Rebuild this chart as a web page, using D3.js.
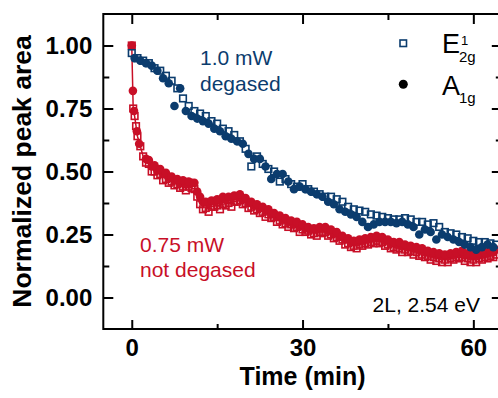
<!DOCTYPE html>
<html><head><meta charset="utf-8">
<script src="https://cdn.jsdelivr.net/npm/d3@7"></script>
<style>
html,body{margin:0;padding:0;background:#fff;overflow:hidden}
svg{display:block;font-family:"Liberation Sans",Arial,sans-serif}
</style></head><body>
<svg id="chart" width="498" height="398"></svg>
<script>
// ---- data ----
// 0.75 mW, not degased (red): E2g (squares) and A1g (circles), two interleaved scans each
const redE_t = [0,0.25,0.5,0.75,1,1.5,2,3,4,5,6,7,8,9,10,11,12,13,14,15,16,17,18,19,20,21,22,23,24,25,26,27,28,29,30,31,32,33,34,35,36,37,38,39,40,41,42,43,44,45,46,47,48,49,50,51,52,53,54,55,56,57,58,59,60,61,62,63,64];
const redE_v = [1.00,0.75,0.72,0.68,0.64,0.60,0.56,0.53,0.50,0.49,0.47,0.46,0.45,0.44,0.44,0.43,0.37,0.355,0.36,0.365,0.37,0.375,0.38,0.385,0.375,0.36,0.35,0.34,0.33,0.32,0.305,0.295,0.29,0.28,0.27,0.265,0.255,0.26,0.26,0.25,0.24,0.23,0.215,0.205,0.21,0.215,0.22,0.225,0.22,0.21,0.20,0.195,0.19,0.185,0.18,0.17,0.165,0.16,0.155,0.15,0.155,0.16,0.16,0.155,0.15,0.155,0.16,0.165,0.17];
const redE2_t = [2.5,3.5,4.5,5.5,6.5,7.5,8.5,9.5,10.5,11.5,12.5,13.5,14.5,15.5,16.5,17.5,18.5,19.5,20.5,21.5,22.5,23.5,24.5,25.5,26.5,27.5,28.5,29.5,30.5,31.5,32.5,33.5,34.5,35.5,36.5,37.5,38.5,39.5,40.5,41.5,42.5,43.5,44.5,45.5,46.5,47.5,48.5,49.5,50.5,51.5,52.5,53.5,54.5,55.5,56.5,57.5,58.5,59.5,60.5,61.5,62.5,63.5];
const redE2_v = [0.535,0.50,0.485,0.465,0.455,0.445,0.435,0.425,0.435,0.40,0.35,0.34,0.36,0.35,0.365,0.36,0.38,0.37,0.355,0.345,0.335,0.32,0.315,0.30,0.29,0.28,0.275,0.26,0.26,0.25,0.245,0.255,0.245,0.235,0.225,0.21,0.20,0.195,0.205,0.21,0.215,0.215,0.205,0.195,0.19,0.18,0.18,0.17,0.165,0.16,0.15,0.145,0.14,0.14,0.15,0.155,0.145,0.14,0.14,0.15,0.155,0.16];
const redA_t = [0,0.2,0.4,0.9,1.3,2.5,3.5,4.5,5.5,6.5,7.5,8.5,9.5,10.5,11.5,12.5,13.5,14.5,15.5,16.5,17.5,18.5,19.5,20.5,21.5,22.5,23.5,24.5,25.5,26.5,27.5,28.5,29.5,30.5,31.5,32.5,33.5,34.5,35.5,36.5,37.5,38.5,39.5,40.5,41.5,42.5,43.5,44.5,45.5,46.5,47.5,48.5,49.5,50.5,51.5,52.5,53.5,54.5,55.5,56.5,57.5,58.5,59.5,60.5,61.5,62.5,63.5];
const redA_v = [1.00,0.82,0.74,0.66,0.61,0.55,0.52,0.505,0.49,0.475,0.465,0.455,0.45,0.455,0.42,0.38,0.375,0.38,0.385,0.39,0.395,0.40,0.39,0.375,0.365,0.355,0.345,0.33,0.32,0.31,0.30,0.29,0.285,0.275,0.27,0.27,0.275,0.265,0.255,0.24,0.23,0.22,0.22,0.225,0.23,0.235,0.235,0.225,0.215,0.21,0.205,0.20,0.195,0.19,0.18,0.175,0.17,0.165,0.165,0.17,0.175,0.17,0.165,0.165,0.17,0.175,0.18];
const redA2_t = [3,4,5,6,7,8,9,10,11,12,13,14,15,16,17,18,19,20,21,22,23,24,25,26,27,28,29,30,31,32,33,34,35,36,37,38,39,40,41,42,43,44,45,46,47,48,49,50,51,52,53,54,55,56,57,58,59,60,61,62,63,64];
const redA2_v = [0.545,0.525,0.51,0.495,0.48,0.47,0.465,0.46,0.455,0.40,0.38,0.385,0.39,0.40,0.40,0.405,0.41,0.395,0.38,0.37,0.36,0.35,0.335,0.325,0.315,0.305,0.30,0.29,0.28,0.275,0.28,0.28,0.27,0.26,0.245,0.235,0.225,0.23,0.235,0.24,0.245,0.24,0.23,0.22,0.22,0.21,0.205,0.20,0.195,0.185,0.18,0.175,0.17,0.175,0.18,0.185,0.175,0.17,0.175,0.18,0.185,0.19];
// 1.0 mW, degased (blue)
const blueE_t = [0,1,2,3,4,5,6,7,8,9,10,11,12,13,14,15,16,17,18,19,20,21,22,23,24,25,26,27,28,29,30,31,32,33,34,35,36,37,38,39,40,41,42,43,44,45,46,47,48,49,50,51,52,53,54,55,56,57,58,59,60,61,62,63,64];
const blueE_v = [0.97,0.95,0.94,0.93,0.91,0.90,0.88,0.86,0.83,0.79,0.76,0.74,0.73,0.72,0.70,0.69,0.67,0.66,0.645,0.62,0.59,0.52,0.56,0.53,0.51,0.50,0.46,0.47,0.45,0.44,0.45,0.43,0.42,0.41,0.40,0.40,0.39,0.38,0.36,0.35,0.345,0.34,0.33,0.325,0.32,0.315,0.31,0.31,0.315,0.31,0.30,0.30,0.29,0.295,0.28,0.26,0.255,0.25,0.24,0.235,0.225,0.22,0.22,0.215,0.21];
const blueA_t = [0.5,1.5,2.5,3.5,4.5,5.5,6.5,7.5,8.5,9.5,10.5,11.5,12.5,13.5,14.5,15.5,16.5,17.5,18.5,19.5,20.5,21.5,22.5,23.5,24.5,25.5,26.5,27.5,28.5,29.5,30.5,31.5,32.5,33.5,34.5,35.5,36.5,37.5,38.5,39.5,40.5,41.5,42.5,43.5,44.5,45.5,46.5,47.5,48.5,49.5,50.5,51.5,52.5,53.5,54.5,55.5,56.5,57.5,58.5,59.5,60.5,61.5,62.5,63.5];
const blueA_v = [0.95,0.94,0.93,0.92,0.90,0.87,0.85,0.76,0.83,0.74,0.72,0.71,0.70,0.69,0.67,0.66,0.64,0.63,0.62,0.61,0.57,0.55,0.55,0.52,0.47,0.49,0.49,0.46,0.43,0.44,0.43,0.42,0.41,0.40,0.38,0.37,0.35,0.34,0.33,0.32,0.30,0.28,0.29,0.30,0.30,0.30,0.295,0.30,0.29,0.28,0.25,0.27,0.26,0.23,0.25,0.24,0.23,0.22,0.21,0.20,0.19,0.20,0.21,0.20];

const xMajor = [0,30,60], xMinor = [15,45];
const yMajor = [0,0.25,0.5,0.75,1.0], yMinor = [0.125,0.375,0.625,0.875];
const xTitle = "Time (min)", yTitle = "Normalized peak area";

// ---- layout ----
const BLUE = "#0b3c6e", RED = "#c80f27";
const L = 103.3, R = 501.8, T = 14, B = 329;
const x = d3.scaleLinear().domain([-5, 65]).range([L, R]);
const y = d3.scaleLinear().domain([-0.125, 1.125]).range([B, T]);
const svg = d3.select("#chart");
const font = '"Liberation Sans",Arial,sans-serif';

svg.append("defs").append("clipPath").attr("id","clip")
  .append("rect").attr("x",L).attr("y",T).attr("width",R-L).attr("height",B-T);

const zip = (ts, vs) => ts.map((t,i)=>({t, v: vs[i]}));
const plot = svg.append("g").attr("clip-path","url(#clip)");

plot.append("path").datum(zip(redE_t, redE_v))
  .attr("fill","none").attr("stroke",RED).attr("stroke-width",1.5)
  .attr("d", d3.line().x(d=>x(d.t)).y(d=>y(d.v)));

function squares(data, color){
  plot.append("g").selectAll("rect").data(data).join("rect")
    .attr("x", d=>x(d.t)-3.3).attr("y", d=>y(d.v)-3.3)
    .attr("width",6.6).attr("height",6.6)
    .attr("fill","none").attr("stroke",color).attr("stroke-width",1.6);
}
function circles(data, color){
  plot.append("g").selectAll("circle").data(data).join("circle")
    .attr("cx", d=>x(d.t)).attr("cy", d=>y(d.v)).attr("r",4.3)
    .attr("fill",color);
}
squares(zip(redE_t, redE_v), RED);
squares(zip(redE2_t, redE2_v), RED);
circles(zip(redA_t, redA_v), RED);
circles(zip(redA2_t, redA2_v), RED);
squares(zip(blueE_t, blueE_v), BLUE);
circles(zip(blueA_t, blueA_v), BLUE);

// ---- axes ----
function styleAxis(g){
  g.select(".domain").remove();
  g.selectAll(".tick line").attr("stroke","#000").attr("stroke-width",2);
  g.selectAll(".tick text").attr("fill","#000").attr("font-size",24).attr("font-weight","bold").attr("font-family",font);
}
svg.append("g").attr("transform",`translate(0,${B})`)
  .call(d3.axisBottom(x).tickValues(xMajor).tickSizeInner(-9).tickSizeOuter(0).tickPadding(10).tickFormat(d3.format("d")))
  .call(styleAxis);
svg.append("g").attr("transform",`translate(0,${B})`)
  .call(d3.axisBottom(x).tickValues(xMinor).tickSizeInner(-5).tickSizeOuter(0).tickFormat(""))
  .call(styleAxis);
svg.append("g").attr("transform",`translate(0,${T})`)
  .call(d3.axisTop(x).tickValues(xMajor).tickSizeInner(-10).tickSizeOuter(0).tickFormat(""))
  .call(styleAxis);
svg.append("g").attr("transform",`translate(0,${T})`)
  .call(d3.axisTop(x).tickValues(xMinor).tickSizeInner(-6).tickSizeOuter(0).tickFormat(""))
  .call(styleAxis);
svg.append("g").attr("transform",`translate(${L},0)`)
  .call(d3.axisLeft(y).tickValues(yMajor).tickSizeInner(-10).tickSizeOuter(0).tickPadding(11).tickFormat(d3.format(".2f")))
  .call(styleAxis);
svg.append("g").attr("transform",`translate(${L},0)`)
  .call(d3.axisLeft(y).tickValues(yMinor).tickSizeInner(-6).tickSizeOuter(0).tickFormat(""))
  .call(styleAxis);
svg.append("g").attr("transform",`translate(${R},0)`)
  .call(d3.axisRight(y).tickValues(yMajor).tickSizeInner(-10).tickSizeOuter(0).tickFormat(""))
  .call(styleAxis);
svg.append("g").attr("transform",`translate(${R},0)`)
  .call(d3.axisRight(y).tickValues(yMinor).tickSizeInner(-6).tickSizeOuter(0).tickFormat(""))
  .call(styleAxis);

svg.append("rect").attr("x",L).attr("y",T).attr("width",R-L).attr("height",B-T)
  .attr("fill","none").attr("stroke","#000").attr("stroke-width",2);

// titles
svg.append("text").attr("x",(L+R)/2).attr("y",385).attr("text-anchor","middle")
  .attr("font-size",25).attr("font-weight","bold").attr("font-family",font).text(xTitle);
svg.append("text").attr("transform",`translate(31,${(T+B)/2}) rotate(-90)`).attr("text-anchor","middle")
  .attr("font-size",26.5).attr("font-weight","bold").attr("font-family",font).text(yTitle);

// annotations
function label(tx, ty, txt, color, anchor){
  svg.append("text").attr("x",tx).attr("y",ty).attr("fill",color).attr("font-size",21)
    .attr("font-family",font).attr("text-anchor",anchor||"start").text(txt);
}
label(200, 65, "1.0 mW", BLUE);
label(200, 91, "degased", BLUE);
label(140, 252, "0.75 mW", RED);
label(140, 277, "not degased", RED);
label(480, 312, "2L, 2.54 eV", "#000", "end");

// legend
svg.append("rect").attr("x",400).attr("y",40).attr("width",6.5).attr("height",6.5)
  .attr("fill","none").attr("stroke",BLUE).attr("stroke-width",1.6);
svg.append("circle").attr("cx",403.3).attr("cy",84.3).attr("r",4.5).attr("fill","#000");
svg.append("text").attr("x",442).attr("y",53).attr("font-size",27).attr("font-family",font).text("E");
svg.append("text").attr("x",461).attr("y",45).attr("font-size",13).attr("font-family",font).text("1");
svg.append("text").attr("x",459).attr("y",62).attr("font-size",15).attr("font-family",font).text("2g");
svg.append("text").attr("x",442).attr("y",95).attr("font-size",27).attr("font-family",font).text("A");
svg.append("text").attr("x",459).attr("y",103).attr("font-size",15).attr("font-family",font).text("1g");
</script>
</body></html>
